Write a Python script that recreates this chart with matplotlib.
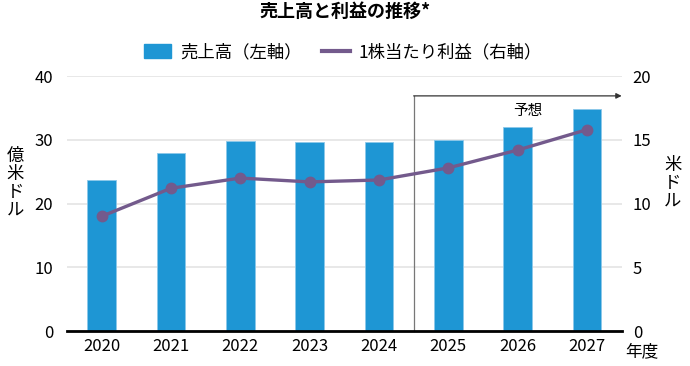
import matplotlib
matplotlib.use('Agg')
from matplotlib import pyplot as plt
from matplotlib.patches import Patch
from matplotlib.lines import Line2D

plt.rcParams['font.family'] = ['Noto Sans CJK JP', 'DejaVu Sans']

years = ['2020', '2021', '2022', '2023', '2024', '2025', '2026', '2027']
sales = [23.7, 27.9, 29.8, 29.6, 29.6, 30.0, 32.0, 34.9]
eps = [9.0, 11.2, 12.0, 11.7, 11.85, 12.8, 14.2, 15.8]
forecast_from = 5  # 2025 onward is forecast

bar_color = '#1e96d4'
line_color = '#735a8c'

fig = plt.figure(figsize=(6.9, 3.66), dpi=100)
ax = fig.add_axes([0.097, 0.0956, 0.804, 0.6964])
x = list(range(len(years)))

ax.bar(x, sales, width=0.41, color=bar_color, edgecolor='#8cc8ea', linewidth=0.6, zorder=2)
ax.set_xlim(-0.5, len(years) - 0.5)
ax.set_ylim(0, 40)
ax.set_yticks([0, 10, 20, 30, 40])
ax.set_xticks(x)
ax.set_xticklabels(years)
ax.grid(axis='y', color='#e4e4e4', linewidth=1.2, zorder=0)
ax.set_axisbelow(True)
for s in ['top', 'right', 'left']:
    ax.spines[s].set_visible(False)
ax.spines['bottom'].set_linewidth(2)
ax.tick_params(axis='both', length=0, labelsize=12, pad=5)
ax.tick_params(axis='y', pad=10)

# forecast bracket
fx = forecast_from - 0.5
ax.plot([fx, fx], [0, 36.9], color='#777777', linewidth=0.9, zorder=1, clip_on=False)
ax.annotate('', xy=(len(years) - 0.5, 36.9), xytext=(fx, 36.9),
            arrowprops=dict(arrowstyle='-|>', color='#333333', lw=0.9,
                            mutation_scale=8, shrinkA=0, shrinkB=0),
            annotation_clip=False)
ax.text(6.15, 34.6, '予想', ha='center', va='center', fontsize=10.5)

ax2 = ax.twinx()
ax2.plot(x, eps, color=line_color, linewidth=2.4, marker='o', markersize=7.5, zorder=3)
ax2.set_ylim(0, 20)
ax2.set_yticks([0, 5, 10, 15, 20])
for s in ['top', 'right', 'left', 'bottom']:
    ax2.spines[s].set_visible(False)
ax2.tick_params(axis='y', length=0, labelsize=12, pad=8)

fig.text(0.022, 0.5, '億\n米\nド\nル', ha='center', va='center', fontsize=12.5, linespacing=1.0)
fig.text(0.975, 0.5, '米\nド\nル', ha='center', va='center', fontsize=12.5, linespacing=1.0)
fig.text(0.93, 0.038, '年度', ha='center', va='center', fontsize=12)

fig.text(0.5, 0.968, '売上高と利益の推移*', ha='center', va='center', fontsize=13, fontweight='bold')

# legend
handles = [Patch(facecolor=bar_color, edgecolor=bar_color),
           Line2D([0], [0], color=line_color, linewidth=3)]
fig.legend(handles, ['売上高（左軸）', '1株当たり利益（右軸）'], loc='center',
           bbox_to_anchor=(0.497, 0.858), ncol=2, frameon=False, fontsize=12.5,
           handlelength=1.6, handleheight=0.8, columnspacing=1.2, handletextpad=0.5)

fig.savefig('out.png', dpi=100)
